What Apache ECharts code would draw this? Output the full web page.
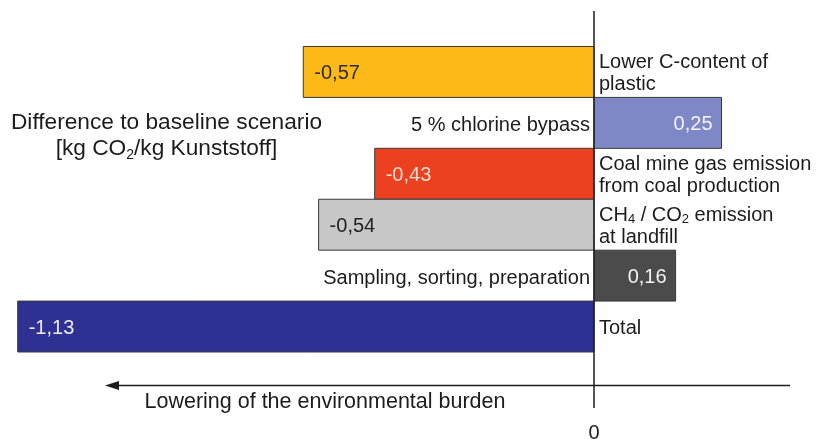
<!DOCTYPE html>
<html>
<head>
<meta charset="utf-8">
<script src="https://cdn.jsdelivr.net/npm/echarts@6/dist/echarts.min.js"></script>
<style>
  html, body { margin: 0; padding: 0; background: #ffffff; }
  #chart { width: 818px; height: 439px; }
</style>
</head>
<body>
<div id="chart"></div>
<script>
// Change against the baseline scenario, kg CO2 per kg plastic
const categories = [
  'Lower C-content of\nplastic',
  '5 % chlorine bypass',
  'Coal mine gas emission\nfrom coal production',
  'CH₄ / CO₂ emission\nat landfill',
  'Sampling, sorting, preparation',
  'Total'
];
const values = [-0.57, 0.25, -0.43, -0.54, 0.16, -1.13];
const axisTicks = [0];
const axisTitle = 'Difference to baseline scenario\n[kg CO₂/kg Kunststoff]';
const arrowCaption = 'Lowering of the environmental burden';

// Styling
const barColors = ['#FCB918', '#7E88C7', '#EC4121', '#C7C7C7', '#4B4B4B', '#2E3192'];
const valueColors = ['#2b2b2b', '#f4f4fa', '#f8dccd', '#222222', '#f2f2f2', '#ececf4'];
const FONT = '"Liberation Sans", Arial, Helvetica, sans-serif';
const INK = '#1c1c1c';

// Subscript digits become rich-text tokens
function richSub(s) {
  return s.replace(/[\u2080-\u2089]/g, c => '{s|' + (c.charCodeAt(0) - 0x2080) + '}');
}
function subStyle(size) {
  return { s: { fontSize: size, fontFamily: FONT, fill: INK, color: INK, verticalAlign: 'bottom' } };
}
function fmt(v) {
  return v.toFixed(2).replace('.', ',');
}

const chart = echarts.init(document.getElementById('chart'), null, { renderer: 'canvas' });

chart.setOption({
  animation: false,
  backgroundColor: '#ffffff',
  grid: { left: 7.5, right: 20, top: 46.5, height: 305.5, containLabel: false, outerBoundsMode: 'none' },
  xAxis: {
    type: 'value',
    min: -1.15,
    max: 0.4,
    axisLine: { show: false },
    axisTick: { show: false },
    splitLine: { show: false },
    axisLabel: {
      customValues: axisTicks,
      formatter: v => String(v),
      margin: 71,
      fontSize: 20,
      fontFamily: FONT,
      color: INK
    }
  },
  yAxis: {
    type: 'category',
    data: categories,
    inverse: true,
    show: false
  },
  series: [{
    type: 'custom',
    encode: { y: 0, x: 1 },
    data: values.map((v, i) => [i, v]),
    renderItem(params, api) {
      const i = api.value(0);
      const v = api.value(1);
      const p0 = api.coord([0, i]);
      const p1 = api.coord([v, i]);
      const h = api.size([0, 1])[1];
      const neg = v < 0;
      return {
        type: 'group',
        children: [
          {
            type: 'rect',
            shape: { x: Math.min(p0[0], p1[0]), y: p0[1] - h / 2, width: Math.abs(p1[0] - p0[0]), height: h },
            style: { fill: barColors[i], stroke: '#3a3a3a', lineWidth: 1 }
          },
          {
            type: 'text',
            x: neg ? p1[0] + 11 : p1[0] - 9,
            y: p0[1] + 2,
            style: {
              text: fmt(v),
              align: neg ? 'left' : 'right',
              verticalAlign: 'middle',
              fontSize: 20,
              fontFamily: FONT,
              fill: valueColors[i]
            }
          },
          {
            type: 'text',
            x: neg ? p0[0] + 5 : p0[0] - 4,
            y: p0[1] + (neg ? 1.5 : 3),
            style: {
              text: richSub(categories[i]),
              rich: subStyle(13),
              align: neg ? 'left' : 'right',
              verticalAlign: 'middle',
              fontSize: 20,
              lineHeight: 22,
              fontFamily: FONT,
              fill: INK
            }
          }
        ]
      };
    }
  }]
});

// Zero line, arrow and captions placed from the axis scale
const x0 = chart.convertToPixel({ xAxisIndex: 0 }, 0);
const arrowY = 385.5;
chart.setOption({
  graphic: [
    {
      type: 'line',
      shape: { x1: x0, y1: 11, x2: x0, y2: 408 },
      style: { stroke: INK, lineWidth: 1.5 },
      z: 10
    },
    {
      type: 'line',
      shape: { x1: 115, y1: arrowY, x2: 790, y2: arrowY },
      style: { stroke: INK, lineWidth: 1.5 },
      z: 10
    },
    {
      type: 'polygon',
      shape: { points: [[105, arrowY], [119, arrowY - 4.5], [119, arrowY + 4.5]] },
      style: { fill: INK },
      z: 10
    },
    {
      type: 'text',
      x: 325,
      y: 402.5,
      style: {
        text: arrowCaption,
        align: 'center',
        verticalAlign: 'middle',
        fontSize: 21.5,
        fontFamily: FONT,
        fill: INK
      },
      z: 10
    },
    {
      type: 'text',
      x: 166.5,
      y: 136,
      style: {
        text: richSub(axisTitle),
        rich: subStyle(14),
        align: 'center',
        verticalAlign: 'middle',
        fontSize: 22.7,
        lineHeight: 26,
        fontFamily: FONT,
        fill: INK
      },
      z: 10
    }
  ]
});
</script>
</body>
</html>
